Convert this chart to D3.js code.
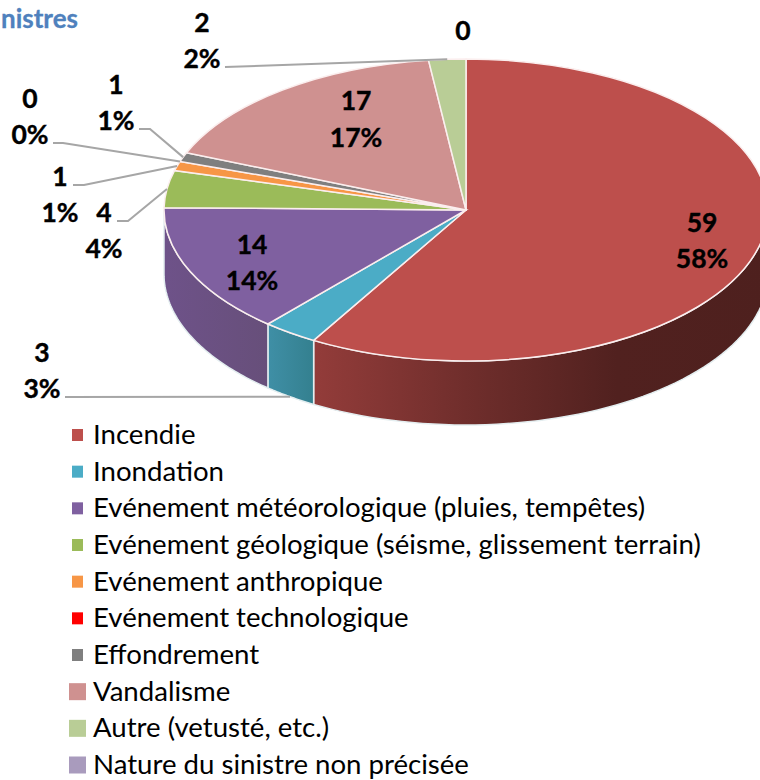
<!DOCTYPE html>
<html>
<head>
<meta charset="utf-8">
<script src="https://cdn.jsdelivr.net/npm/d3@7"></script>
<style>
  body { margin: 0; background: #fff; }
  svg { display: block; font-family: Lato, "Open Sans", sans-serif; }
</style>
</head>
<body>
<svg id="chart" width="760" height="780"></svg>
<script>
// Data
const categories = [
    "Incendie",
    "Inondation",
    "Evénement météorologique (pluies, tempêtes)",
    "Evénement géologique (séisme, glissement terrain)",
    "Evénement anthropique",
    "Evénement technologique",
    "Effondrement",
    "Vandalisme",
    "Autre (vetusté, etc.)",
    "Nature du sinistre non précisée"
];
const values = [59, 3, 14, 4, 1, 0, 1, 17, 2, 0];
const colors = ["#bd4f4c", "#4bacc6", "#7f60a0", "#9bbb59", "#f79646", "#ff0000", "#7f7f7f", "#cf9190", "#b9cd96", "#a99bbd"];

// Side wall shading, left to right
const sideShades = {
    0: ["#933c3a", "#702e2c", "#51211f", "#4e201e"],
    1: ["#3f8fa6", "#34808f"],
    2: ["#6e5289", "#674f7a"]
};

// Label centres, [x, y of value, y of percent]. null means no percent drawn
const labelSpots = [
    [702, 222, 258],
    [42, 352, 388],
    [252, 244, 280],
    [104, 212, 248],
    [60, 176, 212],
    [30, 98, 134],
    [116, 84, 120],
    [356, 100, 137],
    [202, 22, 58],
    [463, 30, null]
];
// Which slices have a leader, and where it leaves the label: [x start, x elbow, y]
const leaderStarts = {
    1: [65, 65, 397],
    3: [117, 128, 221],
    4: [73, 84, 185],
    5: [53, 63, 143],
    6: [139, 150, 129],
    8: [225, 225, 67]
};

const svg = d3.select("#chart");
const cx = 466, cy = 210, rx = 302, ry = 151, depth = 64;

const total = d3.sum(values);
const pct = d3.format(".0%");

const pie = d3.pie().sort(null).value(d => d.value);
const slices = pie(categories.map((name, i) => ({ name, value: values[i], i })));

// Point on the ellipse rim for a pie angle
const rim = a => [cx + rx * Math.sin(a), cy - ry * Math.cos(a)];

const defs = svg.append("defs");

// Side walls, only the front half of the pie shows
const sideArea = d3.area()
    .x(a => rim(a)[0])
    .y0(a => rim(a)[1])
    .y1(a => rim(a)[1] + depth);

slices.forEach(s => {
    const a0 = Math.max(s.startAngle, Math.PI / 2);
    const a1 = Math.min(s.endAngle, Math.PI * 1.5);
    if (a1 <= a0) return;
    const angles = d3.range(0, 61).map(k => a0 + (a1 - a0) * k / 60);
    const xs = d3.extent(angles, a => rim(a)[0]);
    const shades = sideShades[s.data.i];
    const grad = defs.append("linearGradient")
        .attr("id", "side" + s.data.i)
        .attr("gradientUnits", "userSpaceOnUse")
        .attr("x1", xs[0]).attr("x2", xs[1])
        .attr("y1", 0).attr("y2", 0);
    shades.forEach((c, k) => {
        grad.append("stop")
            .attr("offset", k / (shades.length - 1))
            .attr("stop-color", c);
    });
    svg.append("path")
        .attr("d", sideArea(angles))
        .attr("fill", `url(#side${s.data.i})`)
        .attr("stroke", "#e4eef0")
        .attr("stroke-width", 1.5);
});

// Top face, a circle squashed into an ellipse
const arc = d3.arc().innerRadius(0).outerRadius(rx);
svg.append("g")
    .attr("transform", `translate(${cx},${cy}) scale(1,${ry / rx})`)
    .selectAll("path")
    .data(slices.filter(s => s.value > 0))
    .enter().append("path")
    .attr("d", arc)
    .attr("fill", d => colors[d.data.i])
    .attr("stroke", "#fbeeee")
    .attr("stroke-width", 1.5)
    .attr("vector-effect", "non-scaling-stroke");

// Leader lines run to the middle of each slice on the rim
const leader = d3.line();
slices.forEach(s => {
    const start = leaderStarts[s.data.i];
    if (!start) return;
    const mid = (s.startAngle + s.endAngle) / 2;
    const end = rim(mid);
    if (mid > Math.PI / 2 && mid < Math.PI * 1.5) end[1] += depth;
    svg.append("path")
        .attr("d", leader([[start[0], start[2]], [start[1], start[2]], end]))
        .attr("fill", "none")
        .attr("stroke", "#a6a6a6")
        .attr("stroke-width", 2);
});

// Data labels
slices.forEach(s => {
    const [x, y1, y2] = labelSpots[s.data.i];
    const g = svg.append("g")
        .attr("text-anchor", "middle")
        .attr("font-weight", 700)
        .attr("font-size", 26.5)
        .attr("fill", "#000")
        .attr("stroke", "#000")
        .attr("stroke-width", 0.4);
    g.append("text").attr("x", x).attr("y", y1).attr("dy", "0.36em").text(s.value);
    if (y2 !== null) {
        g.append("text").attr("x", x).attr("y", y2).attr("dy", "0.36em").text(pct(s.value / total));
    }
});

// Legend, last three swatches are drawn bigger in the original
const legendY = d3.scalePoint().domain(categories).range([435, 765]);
const legend = svg.append("g").selectAll("g")
    .data(categories)
    .enter().append("g")
    .attr("transform", d => `translate(0,${legendY(d)})`);

legend.append("rect")
    .attr("x", (d, i) => i < 7 ? 72 : 69)
    .attr("y", (d, i) => i < 7 ? -6 : -8.5)
    .attr("width", (d, i) => i < 7 ? 11 : 17)
    .attr("height", (d, i) => i < 7 ? 12 : 17)
    .attr("fill", (d, i) => colors[i]);

legend.append("text")
    .attr("x", 93)
    .attr("dy", "0.32em")
    .attr("font-size", 27.6)
    .attr("fill", "#000")
    .text(d => d);

// Title, only its tail is visible in the original
svg.append("text")
    .attr("x", 78)
    .attr("y", 28)
    .attr("text-anchor", "end")
    .attr("font-size", 26)
    .attr("font-weight", 700)
    .attr("fill", "#4f81bd")
    .attr("stroke", "#4f81bd")
    .attr("stroke-width", 0.3)
    .text("nistres");
</script>
</body>
</html>
